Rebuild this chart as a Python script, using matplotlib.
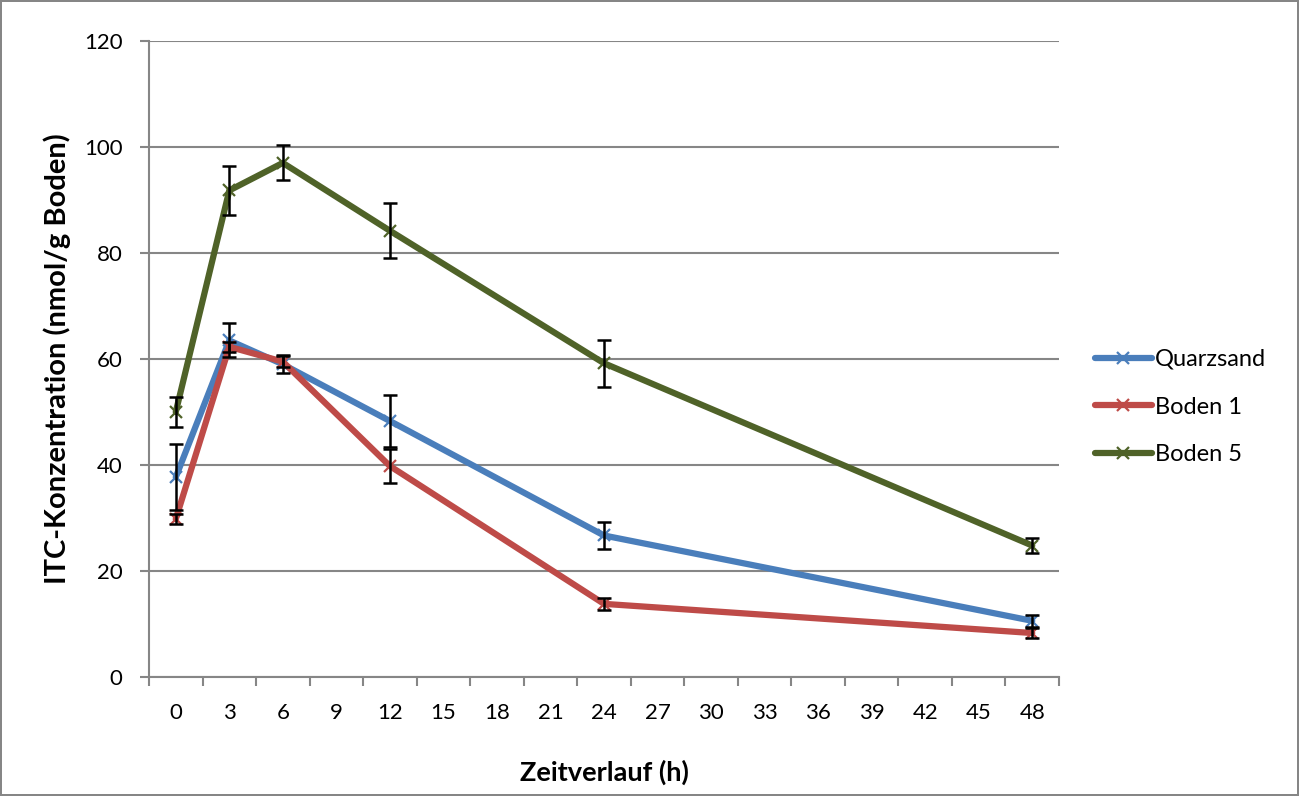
import matplotlib
matplotlib.use("Agg")
import matplotlib.pyplot as plt
import numpy as np

## ITC-Konzentration im Zeitverlauf, drei Substrate
zeit = [0, 3, 6, 12, 24, 48]

quarzsand = [37.7, 63.5, 59.0, 48.3, 26.7, 10.6]
quarzsand_err = [6.2, 3.2, 1.7, 4.9, 2.5, 1.1]

boden1 = [29.8, 62.3, 59.5, 39.8, 13.8, 8.3]
boden1_err = [1.0, 1.0, 1.0, 3.2, 1.2, 1.0]

boden5 = [50.0, 91.8, 97.0, 84.2, 59.2, 24.8]
boden5_err = [2.8, 4.7, 3.3, 5.2, 4.4, 1.4]

serien = [
    ("Quarzsand", quarzsand, quarzsand_err, "#4A7EBB"),
    ("Boden 1", boden1, boden1_err, "#BE4B48"),
    ("Boden 5", boden5, boden5_err, "#4F6228"),
]

plt.rcParams['font.family'] = ['Lato', 'DejaVu Sans']

fig = plt.figure(figsize=(12.99, 7.96), dpi=100)
fig.patch.set_edgecolor("#868686")
fig.patch.set_linewidth(1.5)
ax = fig.add_axes([149 / 1299, 1 - 677 / 796, 910 / 1299, 636 / 796])

for name, werte, err, farbe in serien:
    ax.plot(zeit, werte, color=farbe, lw=4.5, marker="x", ms=8, mew=1.6,
            label=name, zorder=3, solid_capstyle="round")
    ax.errorbar(zeit, werte, yerr=err, fmt="none", ecolor="black",
                elinewidth=1.8, capsize=5, capthick=1.8, zorder=4)

ax.set_xlim(-1.5, 49.5)
ax.set_ylim(0, 120)
ax.set_xticks(np.arange(0, 49, 3))
ax.set_xticks(np.arange(-1.5, 50, 3), minor=True)
ax.tick_params(axis="x", which="major", length=0, pad=19, labelsize=16)
ax.tick_params(axis="x", which="minor", length=6.5, width=1.5, color="#868686")
ax.set_yticks(np.arange(0, 121, 20))
ax.tick_params(axis="y", length=6.5, width=1.5, color="#868686", labelsize=16, pad=12.5)

ax.grid(axis="y", color="#868686", lw=1.5)
ax.set_axisbelow(True)
for s in ["top", "right"]:
    ax.spines[s].set_visible(False)
for s in ["left", "bottom"]:
    ax.spines[s].set_color("#868686")
    ax.spines[s].set_linewidth(1.5)

ax.set_xlabel("Zeitverlauf (h)", fontsize=19.5, fontweight="bold", labelpad=26)
ax.set_ylabel("ITC-Konzentration (nmol/g Boden)", fontsize=21, fontweight="bold", labelpad=9)

ax.legend(loc="center left", bbox_to_anchor=(1.0396, 0.4245), frameon=False,
          borderpad=0, borderaxespad=0,
          fontsize=17, handlelength=2.4, handletextpad=0.15, labelspacing=1.13)

fig.savefig("out.png", dpi=100)
